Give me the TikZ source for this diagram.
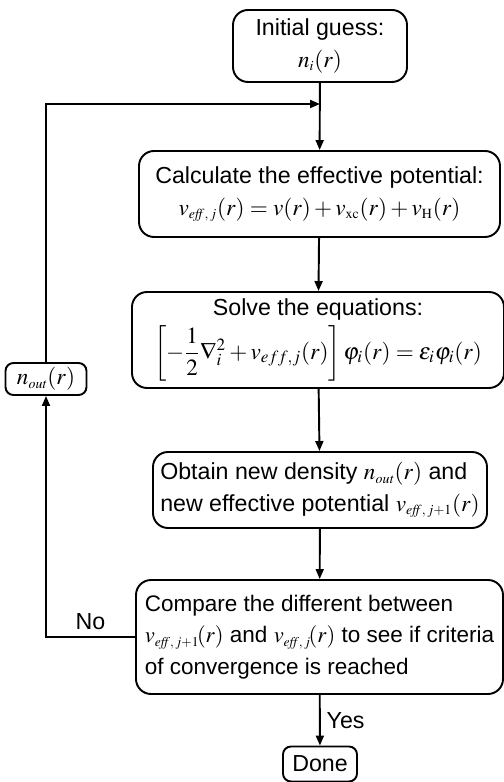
\documentclass[tikz,border=0pt]{standalone}
\usepackage{amsmath}
\usepackage{mathptmx}
\usepackage{fontspec}
\setmainfont{Liberation Sans}
\usetikzlibrary{arrows.meta, positioning}

\newcommand{\veff}[1]{v_{\scriptscriptstyle \mathit{eff},\,#1}}
\newcommand{\nsub}[1]{n_{\scriptscriptstyle \mathit{#1}}}

\tikzset{
  stepbox/.style={draw, line width=1.1pt, rounded corners=0.3cm, inner sep=2pt,
    font=\fontsize{13.2}{18}\selectfont},
  smallbox/.style={stepbox, rounded corners=0.16cm},
  flow/.style={line width=1.1pt, -{Triangle[length=0.2cm,width=0.16cm]}},
  flowlabel/.style={font=\fontsize{13.2}{18}\selectfont},
}

\begin{document}
\begin{tikzpicture}
    \useasboundingbox (0,0) rectangle (10.08,15.64);

    % Main chain
    \node[stepbox, minimum width=3.48cm, minimum height=1.44cm, align=center] (init) at (6.40,14.72)
        {Initial guess:\\$\nsub{i}(r)$};
    \node[stepbox, minimum width=7.22cm, minimum height=1.72cm, align=center] (calc) at (6.39,11.76)
        {Calculate the effective potential:\\
         $\veff{j}(r)=v(r)+v_{\scriptscriptstyle\mathrm{xc}}(r)+v_{\scriptscriptstyle\mathrm{H}}(r)$};
    \node[stepbox, minimum width=7.44cm, minimum height=1.92cm, align=center] (solve) at (6.36,8.84)
        {Solve the equations:\\[2pt]
         $\left[-\dfrac{1}{2}\nabla_i^2+v_{eff,j}(r)\right]\varphi_i(r)=\varepsilon_i\varphi_i(r)$};
    \node[stepbox, minimum width=6.68cm, minimum height=1.52cm, align=left] (obtain) at (6.40,5.84)
        {Obtain new density $\nsub{out}(r)$ and\\
         new effective potential $\veff{j+1}(r)$};
    \node[stepbox, minimum width=7.34cm, minimum height=2.28cm, align=left, inner xsep=1pt,
          font=\fontsize{12.8}{18}\selectfont] (compare) at (6.39,2.90)
        {Compare the different between\\
         $\veff{j+1}\!(r)$ and $\veff{j}\!(r)$ to see if criteria\\
         of convergence is reached};
    \node[smallbox, minimum width=1.48cm, minimum height=0.70cm] (done) at (6.40,0.36) {Done};

    % Feedback
    \node[smallbox, minimum width=1.62cm, minimum height=0.64cm] (nout) at (0.92,8.06) {$\nsub{out}(r)$};
    \coordinate (loop) at (6.40,13.56);

    % Connectors
    \draw[flow] (init) -- (calc);
    \draw[flow] (calc) -- (solve);
    \draw[flow] (solve) -- (obtain);
    \draw[flow] (obtain) -- (compare);
    \draw[flow] (compare) -- node[right, flowlabel]{Yes} (done);
    \draw[flow] (compare.west) -- node[above, flowlabel]{No} (compare.west -| nout) -- (nout);
    \draw[flow] (nout.north) |- (loop);
\end{tikzpicture}
\end{document}
